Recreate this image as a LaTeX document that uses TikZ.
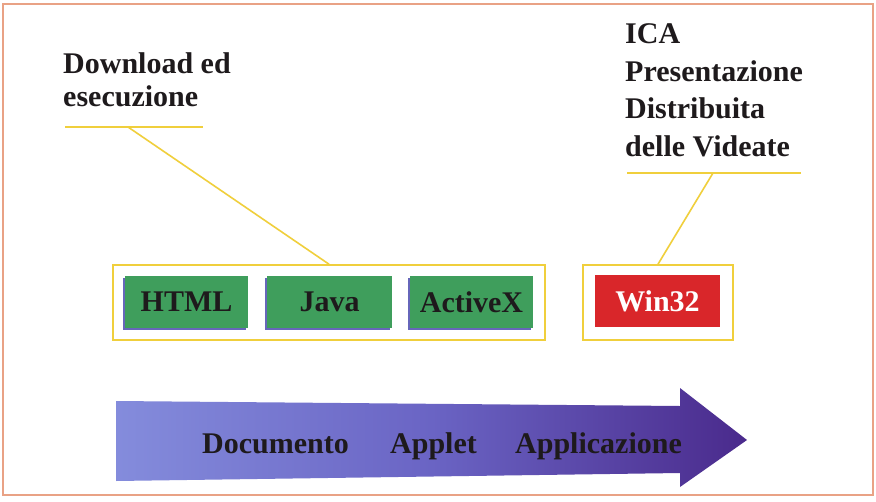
\documentclass[tikz,border=0pt]{standalone}
\usepackage{fontspec}
\setmainfont{Liberation Serif}
\usetikzlibrary{shadows,calc}
\definecolor{frameC}{HTML}{E9A285}
\definecolor{lineC}{HTML}{F0CF3C}
\definecolor{greenC}{HTML}{3F9E5C}
\definecolor{redC}{HTML}{D9262A}
\definecolor{txtC}{HTML}{1E1A1C}
\definecolor{arrL}{HTML}{848CDC}
\definecolor{arrM}{HTML}{6A64C4}
\definecolor{arrR}{HTML}{4A2A8C}
\tikzset{
  lbl/.style={anchor=base west, inner sep=0pt, font=\bfseries\fontsize{30}{33}\selectfont, text=txtC},
  grp/.style={draw=lineC, line width=1.6pt, fill=white, inner sep=0pt},
  btn/.style={fill=greenC, inner sep=0pt, minimum height=52pt, font=\bfseries\fontsize{30}{33}\selectfont, text=txtC,
     drop shadow={shadow xshift=-1.6pt, shadow yshift=-1.6pt, fill=black!45!blue, opacity=0.6}},
  conn/.style={draw=lineC, line width=1.6pt},
  arrtxt/.style={anchor=base west, inner sep=0pt, font=\bfseries\fontsize{30}{33}\selectfont, text=txtC}
}
\begin{document}
\begin{tikzpicture}[x=1pt,y=-1pt]
\useasboundingbox (0,0) rectangle (876,501);
\fill[white] (0,0) rectangle (876,501);
\draw[frameC, line width=2.2pt] (3,4) rectangle (873,495);

% labels
\node[lbl] (dl1) at (63,73) {Download ed};
\node[lbl] (dl2) at (63,106) {esecuzione};
\node[lbl] (ica1) at (625,43) {ICA};
\node[lbl] (ica2) at (625,81) {Presentazione};
\node[lbl] (ica3) at (625,118) {Distribuita};
\node[lbl] (ica4) at (625,156) {delle Videate};

\coordinate (u1a) at (65,127);
\coordinate (u1b) at (203,127);
\coordinate (u1c) at (128,127);
\coordinate (u2a) at (627,173);
\coordinate (u2b) at (801,173);
\coordinate (u2c) at (713,173);

% group boxes
\node[grp, minimum width=432pt, minimum height=75pt] (g1) at (329,302.5) {};
\node[grp, minimum width=150pt, minimum height=75pt] (g2) at (658,302.5) {};

\node[btn, minimum width=123pt] (html) at (186.5,302) {HTML};
\node[btn, minimum width=125pt] (java) at (329.5,302) {Java};
\node[btn, minimum width=123pt] (activex) at (471.5,302) {ActiveX};

\node[fill=redC, inner sep=0pt, minimum width=125pt, minimum height=52pt,
      font=\bfseries\fontsize{30}{33}\selectfont, text=white] (win) at (657.5,301) {Win32};

% connectors
\draw[conn] (u1a) -- (u1b);
\draw[conn] (u1c) -- (g1.north);
\draw[conn] (u2a) -- (u2b);
\draw[conn] (u2c) -- (g2.north);

% arrow
\coordinate (a1) at (116,401);
\coordinate (a2) at (680,406);
\coordinate (a3) at (680,388);
\coordinate (a4) at (747,440);
\coordinate (a5) at (680,487);
\coordinate (a6) at (680,473);
\coordinate (a7) at (116,481);
\shade[left color=arrL, right color=arrR, middle color=arrM]
  (a1) -- (a2) -- (a3) -- (a4) -- (a5) -- (a6) -- (a7) -- cycle;

\node[arrtxt] (t1) at (202,453) {Documento};
\node[arrtxt] (t2) at (390,453) {Applet};
\node[arrtxt] (t3) at (515,453) {Applicazione};
\end{tikzpicture}
\end{document}
